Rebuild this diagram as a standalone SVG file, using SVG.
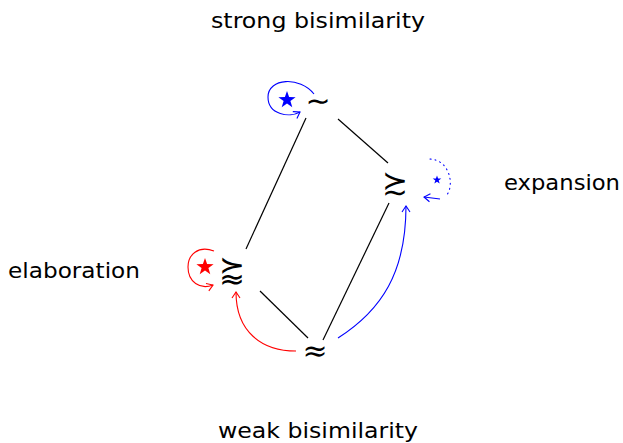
<svg xmlns="http://www.w3.org/2000/svg" width="623" height="443" viewBox="0 0 623 443">
<style>
.lbl{font-family:"DejaVu Sans","Liberation Sans",sans-serif;font-size:22px;fill:#000}
.sym{font-family:"DejaVu Sans","DejaVu Serif",sans-serif;font-size:30px;font-weight:200;fill:#000;text-anchor:middle;dominant-baseline:central}
.tld{font-family:"DejaVu Sans","DejaVu Serif",sans-serif;font-size:30px;fill:#000;text-anchor:middle;dominant-baseline:central}
.big{font-family:"DejaVu Sans","DejaVu Serif",sans-serif;font-size:31px;font-weight:200;fill:#000;text-anchor:middle;dominant-baseline:central}
.edge{stroke:#000;stroke-width:1.2;fill:none}
.red{stroke:#f00;stroke-width:1.1;fill:none}
.blue{stroke:#00f;stroke-width:1.1;fill:none}
</style>
<defs>
<marker id="ar" markerUnits="userSpaceOnUse" markerWidth="12" markerHeight="12" viewBox="-8 -6 10 12" refX="0" refY="0" orient="auto">
<path d="M-6,-4 Q-1.5,-1 0,0 Q-1.5,1 -6,4" fill="none" stroke="#f00" stroke-width="1.1"/>
</marker>
<marker id="ab" markerUnits="userSpaceOnUse" markerWidth="12" markerHeight="12" viewBox="-8 -6 10 12" refX="0" refY="0" orient="auto">
<path d="M-6,-4 Q-1.5,-1 0,0 Q-1.5,1 -6,4" fill="none" stroke="#00f" stroke-width="1.1"/>
</marker>
</defs>
<g id="connectors">
<line class="edge" x1="306" y1="118" x2="246" y2="249"/>
<line class="edge" x1="338" y1="119" x2="388" y2="163"/>
<line class="edge" x1="389" y1="203" x2="323" y2="340"/>
<line class="edge" x1="260" y1="291" x2="308" y2="338"/>
<path class="red" d="M296,351 C262,351 236,332 236,292" marker-end="url(#ar)"/>
<path class="blue" d="M338,338 C382,310 406,272 406,206" marker-end="url(#ab)"/>
<path class="blue" d="M314,94 C300,76 268,78 268,97 C268,115 290,118 300,112" marker-end="url(#ab)"/>
<path class="red" d="M214,251 C198,245 188,255 188,267 C188,282 200,290 213,285" marker-end="url(#ar)"/>
<path class="blue" d="M430,159 C450,160 455,186 446,196" stroke-dasharray="1,4" stroke-linecap="round"/>
<path class="blue" d="M440,199 L424,197" marker-end="url(#ab)"/>
</g>
<g id="strong">
<polygon fill="#00f" points="287,91 289.1,97.1 295.6,97.2 290.4,101.1 292.3,107.3 287,103.6 281.7,107.3 283.6,101.1 278.4,97.2 284.9,97.1"/>
<text class="tld" x="318" y="100">∼</text>
<text class="lbl" x="211" y="28" textLength="214" lengthAdjust="spacingAndGlyphs">strong bisimilarity</text>
</g>
<g id="expansion">
<polygon fill="#00f" points="437,175.5 438.1,178.5 441.3,178.6 438.7,180.5 439.7,183.6 437,181.8 434.3,183.6 435.3,180.5 432.7,178.6 435.9,178.5"/>
<text class="big" x="395" y="182">≿</text>
<text class="lbl" x="504" y="190" textLength="116" lengthAdjust="spacingAndGlyphs">expansion</text>
</g>
<g id="elaboration">
<polygon fill="#f00" points="205,258 207.1,264.1 213.6,264.2 208.4,268.1 210.3,274.3 205,270.6 199.7,274.3 201.6,268.1 196.4,264.2 202.9,264.1"/>
<text class="big" x="232" y="268">⪸</text>
<text class="lbl" x="8" y="278" textLength="132" lengthAdjust="spacingAndGlyphs">elaboration</text>
</g>
<g id="weak">
<text class="sym" x="315" y="350">≈</text>
<text class="lbl" x="218" y="438" textLength="200" lengthAdjust="spacingAndGlyphs">weak bisimilarity</text>
</g>
</svg>
